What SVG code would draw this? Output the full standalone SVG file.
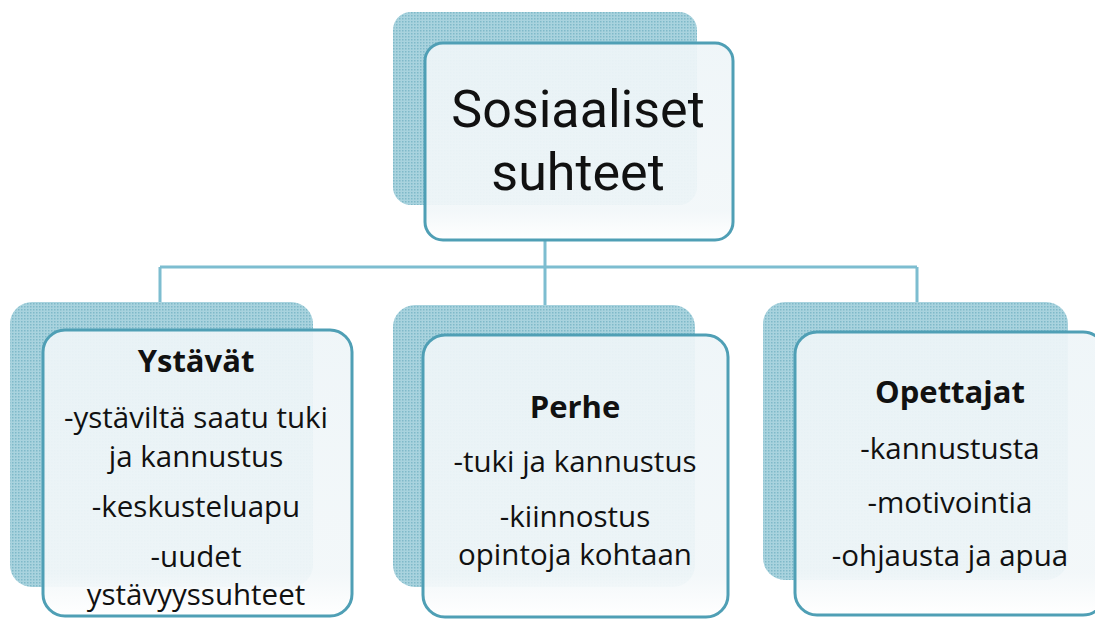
<svg xmlns="http://www.w3.org/2000/svg" width="1095" height="620" viewBox="0 0 1095 620">
<defs>
<pattern id="hatch" width="3" height="3" patternUnits="userSpaceOnUse">
<rect width="3" height="3" fill="#a9d3de"/>
<rect width="1.5" height="1.5" fill="#7fb9c9"/>
</pattern>
<linearGradient id="front" x1="0" y1="0" x2="0" y2="1">
<stop offset="0" stop-color="#eef5f8" stop-opacity="0.93"/>
<stop offset="0.85" stop-color="#f2f7f9" stop-opacity="0.93"/>
<stop offset="1" stop-color="#ffffff" stop-opacity="1"/>
</linearGradient>
</defs>
<style>
.shadow{fill:url(#hatch);}
.box{fill:url(#front);stroke:#4f9fb5;stroke-width:3;}
.conn{fill:none;stroke:#7dbdd0;stroke-width:3;}
text{font-family:"Open Sans","Liberation Sans",sans-serif;fill:#111;text-anchor:middle;}
.t{font-family:Roboto,"Open Sans",sans-serif;font-size:52px;}
.h{font-size:31px;font-weight:bold;}
.b{font-size:29.5px;}
</style>
<rect width="1095" height="620" fill="#ffffff"/>
<g id="connectors">
<path class="conn" d="M545 240 V267 M160 267 H917 M160 267 V302 M545 267 V305 M917 267 V302"/>
</g>
<g id="root">
<rect class="shadow" x="393" y="12" width="304" height="193" rx="18"/>
<rect class="box" x="425" y="43" width="308" height="197" rx="18"/>
<text class="t" x="578" y="127">Sosiaaliset</text>
<text class="t" x="578" y="190">suhteet</text>
</g>
<g id="ystavat">
<rect class="shadow" x="10" y="302" width="303" height="285" rx="22"/>
<rect class="box" x="43" y="330" width="309" height="286" rx="22"/>
<text class="h" x="196" y="372">Ystävät</text>
<text class="b" x="196" y="428">-ystäviltä saatu tuki</text>
<text class="b" x="196" y="467">ja kannustus</text>
<text class="b" x="196" y="517">-keskusteluapu</text>
<text class="b" x="196" y="567">-uudet</text>
<text class="b" x="196" y="605">ystävyyssuhteet</text>
</g>
<g id="perhe">
<rect class="shadow" x="393" y="305" width="302" height="282" rx="22"/>
<rect class="box" x="423" y="335" width="305" height="282" rx="22"/>
<text class="h" x="575" y="418">Perhe</text>
<text class="b" x="575" y="472">-tuki ja kannustus</text>
<text class="b" x="575" y="527">-kiinnostus</text>
<text class="b" x="575" y="565">opintoja kohtaan</text>
</g>
<g id="opettajat">
<rect class="shadow" x="763" y="302" width="305" height="278" rx="22"/>
<rect class="box" x="795" y="332" width="310" height="283" rx="22"/>
<text class="h" x="950" y="403">Opettajat</text>
<text class="b" x="950" y="459">-kannustusta</text>
<text class="b" x="950" y="513">-motivointia</text>
<text class="b" x="950" y="566">-ohjausta ja apua</text>
</g>
</svg>
